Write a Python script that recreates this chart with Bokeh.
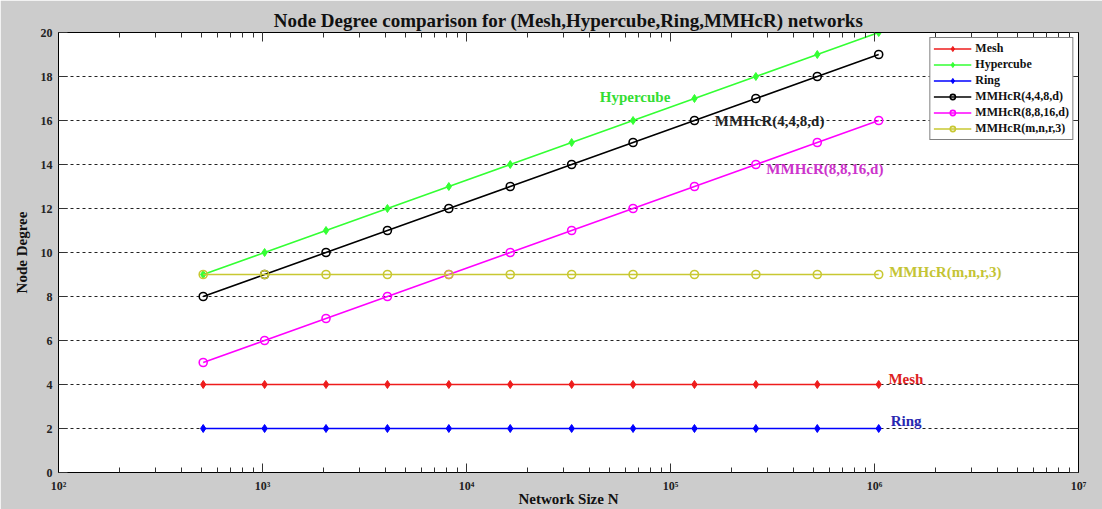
from bokeh.plotting import figure
from bokeh.models import (LogAxis, LinearAxis, CustomJSTickFormatter, FixedTicker,
                          LogTicker, Range1d)
from bokeh.core.properties import value
from bokeh.embed import file_html
from bokeh.resources import INLINE

# ---------------- data ----------------
network_size = [512, 1024, 2048, 4096, 8192, 16384, 32768, 65536,
                131072, 262144, 524288, 1048576]
mesh = [4, 4, 4, 4, 4, 4, 4, 4, 4, 4, 4, 4]
hypercube = [9, 10, 11, 12, 13, 14, 15, 16, 17, 18, 19, 20]
ring = [2, 2, 2, 2, 2, 2, 2, 2, 2, 2, 2, 2]
mmhcr_4_4_8 = [8, 9, 10, 11, 12, 13, 14, 15, 16, 17, 18, 19]
mmhcr_8_8_16 = [5, 6, 7, 8, 9, 10, 11, 12, 13, 14, 15, 16]
mmhcr_mnr3 = [9, 9, 9, 9, 9, 9, 9, 9, 9, 9, 9, 9]

series_names = ["Mesh", "Hypercube", "Ring", "MMHcR(4,4,8,d)", "MMHcR(8,8,16,d)", "MMHcR(m,n,r,3)"]
y_ticks = [0, 2, 4, 6, 8, 10, 12, 14, 16, 18, 20]

# annotation labels (name, x, y) in data coordinates
annotations = [
    ("Hypercube", 45000, 17.05, "#33dd33"),
    ("MMHcR(4,4,8,d)", 165000, 16.0, "#222222"),
    ("MMHcR(8,8,16,d)", 295000, 13.8, "#cc33cc"),
    ("MMHcR(m,n,r,3)", 1180000, 9.1, "#c4c435"),
    ("Mesh", 1170000, 4.25, "#dd2222"),
    ("Ring", 1200000, 2.35, "#2828b0"),
]

FONT = "Liberation Serif"

p = figure(width=1102, height=509, x_axis_type="log",
           x_range=Range1d(100, 1e7), y_range=Range1d(0, 20),
           output_backend="svg", toolbar_location=None,
           title="Node Degree comparison for (Mesh,Hypercube,Ring,MMHcR) networks")
p.min_border_left = 58
p.min_border_right = 24
p.min_border_top = 32
p.min_border_bottom = 36
p.border_fill_color = "#cccccc"
p.background_fill_color = "white"
p.outline_line_color = "black"
p.outline_line_width = 1

p.title.align = "center"
p.title.text_font = FONT
p.title.text_font_size = "19px"
p.title.text_font_style = "bold"
p.title.text_color = "#111111"
p.title.offset = 0
p.title.standoff = 4

sup = CustomJSTickFormatter(code="""
const s = {"0":"\u2070","1":"\u00b9","2":"\u00b2","3":"\u00b3","4":"\u2074","5":"\u2075","6":"\u2076","7":"\u2077","8":"\u2078","9":"\u2079","-":"\u207b"};
const e = Math.round(Math.log10(tick));
return "10" + String(e).split("").map(c => s[c]).join("");
""")

xa = p.xaxis[0]
xa.ticker = LogTicker(num_minor_ticks=10)
xa.formatter = sup
ya = p.yaxis[0]
ya.ticker = FixedTicker(ticks=y_ticks)

for ax in (xa, ya):
    ax.major_tick_in = 9
    ax.major_tick_out = 0
    ax.minor_tick_in = 5
    ax.minor_tick_out = 0
    ax.major_label_text_font = FONT
    ax.major_label_text_font_style = "bold"
    ax.major_label_text_font_size = "12px"
    ax.major_label_text_color = "#222222"
    ax.axis_label_text_font = FONT
    ax.axis_label_text_font_style = "bold"
    ax.axis_label_text_font_size = "15px"
    ax.axis_label_text_color = "#111111"
    ax.axis_line_color = "black"
    ax.major_tick_line_color = "#333333"
    ax.minor_tick_line_color = "#333333"
ya.minor_tick_line_color = None
xa.axis_label = "Network Size N"
ya.axis_label = "Node Degree"
xa.major_label_standoff = 6
xa.axis_label_standoff = -5
ya.major_label_standoff = 6
ya.axis_label_standoff = 8

empty = CustomJSTickFormatter(code="return '';")
top = LogAxis(ticker=LogTicker(num_minor_ticks=10), formatter=empty,
              major_tick_in=9, major_tick_out=0, minor_tick_in=5, minor_tick_out=0,
              major_label_text_font_size="1px", major_label_standoff=0,
              major_tick_line_color="#333333", minor_tick_line_color="#333333")
p.add_layout(top, "above")
right = LinearAxis(ticker=FixedTicker(ticks=y_ticks), formatter=empty,
                   major_tick_in=9, major_tick_out=0, minor_tick_line_color=None,
                   major_label_text_font_size="1px", major_label_standoff=0,
                   major_tick_line_color="#333333")
p.add_layout(right, "right")

p.xgrid.grid_line_color = None
p.ygrid.ticker = FixedTicker(ticks=y_ticks)
p.ygrid.grid_line_color = "#222222"
p.ygrid.grid_line_dash = "3 3"
p.ygrid.grid_line_width = 1

styles = [
    (mesh, "#ee1c1c", "diamond", "Mesh"),
    (hypercube, "#33ff33", "diamond", "Hypercube"),
    (ring, "#0000ff", "diamond", "Ring"),
    (mmhcr_4_4_8, "#000000", "circle", "MMHcR(4,4,8,d)"),
    (mmhcr_8_8_16, "#ff00ff", "circle", "MMHcR(8,8,16,d)"),
    (mmhcr_mnr3, "#c8c832", "circle", "MMHcR(m,n,r,3)"),
]
for ys, col, mk, name in styles:
    p.line(network_size, ys, line_color=col, line_width=1.6, legend_label=name)
    if mk == "circle":
        p.scatter(network_size, ys, marker="circle", size=8, line_color=col,
                  line_width=1.6, fill_color=None, legend_label=name)
    else:
        p.scatter(network_size, ys, marker="diamond", size=8, line_color=col,
                  fill_color=col, legend_label=name)

for txt, x, y, col in annotations:
    p.text(x=[x], y=[y], text=[txt], text_color=col, text_font=value(FONT),
           text_font_style="bold", text_font_size="15px",
           text_baseline="middle", text_align="left")

lg = p.legend[0]
lg.location = "top_right"
lg.margin = 5
lg.padding = 3
lg.spacing = 1
lg.label_height = 13
lg.glyph_height = 13
lg.glyph_width = 38
lg.label_standoff = 4
lg.label_text_font = FONT
lg.label_text_font_style = "bold"
lg.label_text_font_size = "12px"
lg.label_text_color = "#111111"
lg.border_line_color = "black"
lg.border_line_width = 1
lg.background_fill_color = "white"
lg.background_fill_alpha = 1

open("out.html", "w").write(file_html(p, INLINE))
